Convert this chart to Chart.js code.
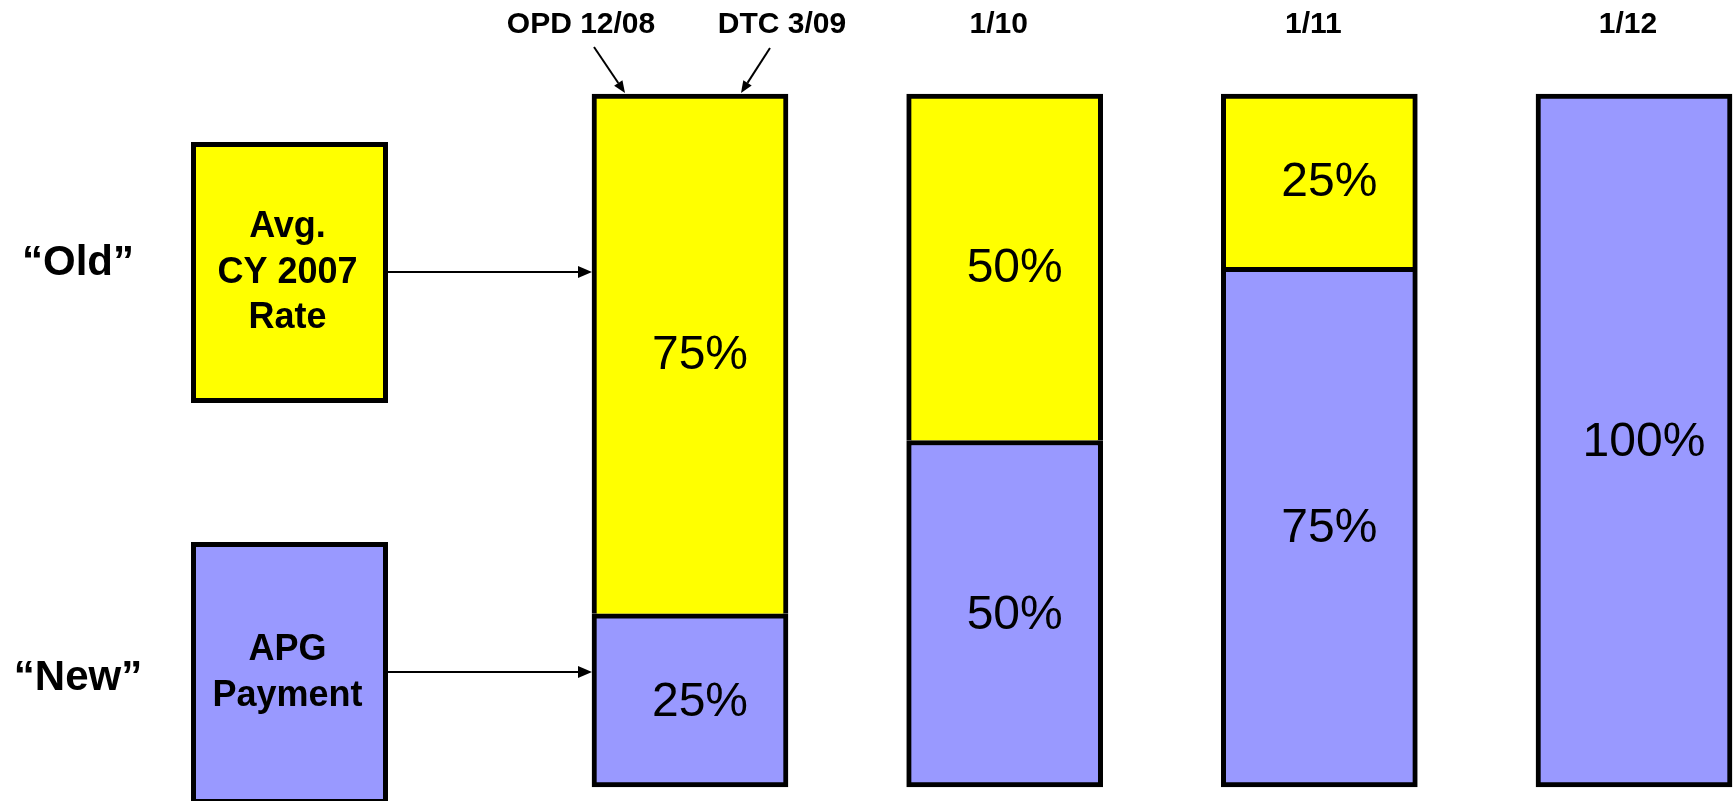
<!DOCTYPE html>
<html>
<head>
<title>Old rate / APG payment blend</title>
<script src="https://cdn.jsdelivr.net/npm/chart.js"></script>
<style>
  body { margin: 0; background: #fff; }
  .wrap { position: relative; width: 1734px; height: 801px; }
</style>
</head>
<body>
<div class="wrap"><canvas id="blend"></canvas></div>
<script>
// transition periods and the share of each payment component (%)
const periods = ['OPD 12/08 - DTC 3/09', '1/10', '1/11', '1/12'];
const newShare = [25, 50, 75, 100];   // APG payment
const oldShare = [75, 50, 25, 0];     // avg. CY 2007 rate
const startLabels = ['OPD 12/08', 'DTC 3/09'];
const rowLabels = ['\u201cOld\u201d', '\u201cNew\u201d'];
const boxLines = [['Avg.', 'CY 2007', 'Rate'], ['APG', 'Payment']];

const YELLOW = '#ffff00';
const BLUE = '#9999ff';
const FONT = '"Liberation Sans", Arial, Helvetica, sans-serif';

function arrow(ctx, x1, y1, x2, y2, len, half) {
    const a = Math.atan2(y2 - y1, x2 - x1);
    const bx = x2 - len * Math.cos(a), by = y2 - len * Math.sin(a);
    ctx.beginPath();
    ctx.moveTo(x1, y1);
    ctx.lineTo(bx, by);
    ctx.stroke();
    ctx.beginPath();
    ctx.moveTo(x2, y2);
    ctx.lineTo(bx + half * Math.sin(a), by - half * Math.cos(a));
    ctx.lineTo(bx - half * Math.sin(a), by + half * Math.cos(a));
    ctx.closePath();
    ctx.fill();
}

const annotations = {
    id: 'annotations',
    afterDatasetsDraw(chart) {
        const ctx = chart.ctx;
        const top = chart.chartArea.top;
        const newBars = chart.getDatasetMeta(0).data;
        const oldBars = chart.getDatasetMeta(1).data;
        ctx.save();
        ctx.fillStyle = '#000';
        ctx.strokeStyle = '#000';
        ctx.textAlign = 'center';
        ctx.textBaseline = 'middle';

        // segment percentages
        ctx.font = '48px ' + FONT;
        [[newBars, newShare], [oldBars, oldShare]].forEach(([bars, vals]) => {
            bars.forEach((el, i) => {
                if (!vals[i]) return;
                ctx.fillText(vals[i] + '%', el.x + 10, (el.y + el.base) / 2 + 2);
            });
        });

        // period labels above the bars
        ctx.font = 'bold 30px ' + FONT;
        ctx.lineWidth = 2;
        newBars.forEach((el, i) => {
            if (i === 0) {
                ctx.fillText(startLabels[0], el.x - 109, 25);
                ctx.fillText(startLabels[1], el.x + 92, 25);
                arrow(ctx, el.x - 96, 47, el.x - 65, top - 1, 12, 5);
                arrow(ctx, el.x + 80, 48, el.x + 51, top - 1, 12, 5);
            } else {
                ctx.fillText(periods[i], el.x - 6, 25);
            }
        });

        // left-hand key boxes with arrows into the first bar
        const firstLeft = newBars[0].x - newBars[0].width / 2;
        const boxes = [
            { x: 191, y: 142, w: 197, h: 261, fill: YELLOW, cy: 272 },
            { x: 191, y: 542, w: 197, h: 262, fill: BLUE, cy: 672 }
        ];
        boxes.forEach((b, k) => {
            ctx.fillStyle = b.fill;
            ctx.fillRect(b.x, b.y, b.w, b.h);
            ctx.lineWidth = 5;
            ctx.strokeRect(b.x + 2.5, b.y + 2.5, b.w - 5, b.h - 5);
            ctx.fillStyle = '#000';
            ctx.font = 'bold 36px ' + FONT;
            const lines = boxLines[k];
            lines.forEach((t, j) => {
                ctx.fillText(t, b.x + b.w / 2 - 2, b.cy + (j - (lines.length - 1) / 2) * 45.5 + 1);
            });
            ctx.font = 'bold 42px ' + FONT;
            ctx.fillText(rowLabels[k], 78, k === 0 ? 263 : 678);
            ctx.lineWidth = 2;
            arrow(ctx, b.x + b.w, b.cy, firstLeft, b.cy, 14, 6);
        });
        ctx.restore();
    }
};

new Chart(document.getElementById('blend'), {
    type: 'bar',
    data: {
        labels: periods,
        datasets: [{
            label: 'APG Payment',
            data: newShare,
            backgroundColor: BLUE,
            borderColor: '#000',
            borderWidth: 5,
            borderSkipped: false,
            barThickness: 196,
            clip: false
        }, {
            label: 'Avg. CY 2007 Rate',
            data: oldShare,
            backgroundColor: YELLOW,
            borderColor: '#000',
            borderWidth: 5,
            borderSkipped: 'bottom',
            barThickness: 196,
            clip: false
        }]
    },
    options: {
        responsive: true,
        maintainAspectRatio: false,
        animation: false,
        devicePixelRatio: 1,
        layout: { padding: { left: 690, right: 100, top: 94, bottom: 14 } },
        plugins: { legend: { display: false }, tooltip: { enabled: false } },
        scales: {
            x: { stacked: true, offset: false, display: false },
            y: { stacked: true, min: 0, max: 100, display: false }
        }
    },
    plugins: [annotations]
});
</script>
</body>
</html>
